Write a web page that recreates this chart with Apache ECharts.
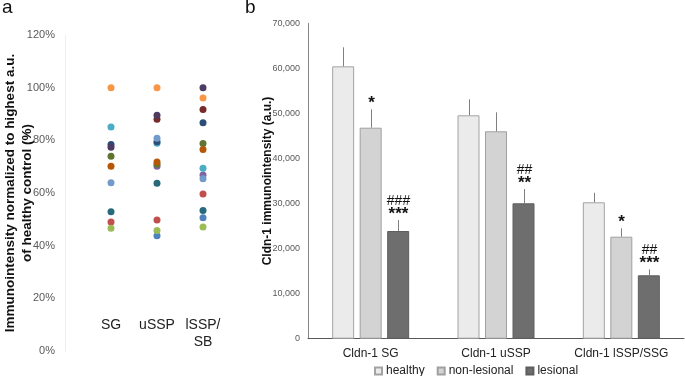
<!DOCTYPE html>
<html><head><meta charset="utf-8">
<script src="https://cdn.jsdelivr.net/npm/echarts@6/dist/echarts.min.js"></script>
<style>html,body{margin:0;padding:0;background:#fff}#c{width:685px;height:376px}</style>
</head><body><div id="c"></div>
<script>
// ---- Panel a data ----
const scatterCategories = ['SG', 'uSSP', 'lSSP/\nSB'];
const patientColors = ['#4F81BD','#C0504D','#9BBB59','#8064A2','#4BACC6','#F79646','#2C4D75','#772C2A','#5F7530','#4D3B62','#276A7C','#B65708','#729ACA'];
// values per patient: [SG, uSSP, lSSP/SB] in %
const patientValues = [
  [null, 43.8, 50.6],
  [49.0, 49.7, 59.6],
  [46.6, 45.8, 47.1],
  [null, 70.2, 66.8],
  [85.1, 78.9, 69.4],
  [100, 100, 96.1],
  [78.4, 79.5, 86.7],
  [null, 88.0, 91.7],
  [74.0, 70.9, 78.8],
  [77.4, 89.5, 100],
  [52.9, 63.7, 53.4],
  [70.2, 71.8, 76.5],
  [63.9, 80.8, 65.4]
];
// ---- Panel b data ----
const barCategories = ['Cldn-1 SG', 'Cldn-1 uSSP', 'Cldn-1 lSSP/SSG'];
const groupNames = ['healthy', 'non-lesional', 'lesional'];
const healthy = [60450, 49580, 30270];
const healthySD = [4220, 3550, 2130];
const nonLesional = [46830, 46030, 22640];
const nonLesionalSD = [4080, 4210, 1860];
const lesional = [23900, 30050, 14070];
const lesionalSD = [2440, 3170, 1330];
const healthyMarks = ['', '', ''];
const nonLesionalMarks = ['*', '', '*'];
const lesionalMarks = ['###|***', '##|**', '##|***'];

const FONT = 'Liberation Sans, Arial, sans-serif';
const barFills = ['#EBEBEB', '#D3D3D3', '#6E6E6E'];
const barBorders = ['#A3A3A3', '#A0A0A0', '#5E5E5E'];
const BAR_W = 22, BAR_STEP = 27.5;

const chart = echarts.init(document.getElementById('c'), null, {renderer: 'canvas'});

const scatterSeries = patientValues.map((vals, p) => ({
  type: 'scatter', xAxisIndex: 0, yAxisIndex: 0,
  symbolSize: 7,
  itemStyle: {color: patientColors[p], opacity: 1},
  data: vals.map((v, i) => v == null ? null : [i + 1, v]).filter(d => d)
}));

function errSeries(vals, sds, marks, idx) {
  return {
    type: 'custom', xAxisIndex: 1, yAxisIndex: 1, z: 5,
    data: vals.map((v, i) => [i, v, v + sds[i]]),
    renderItem(params, api) {
      const i = api.value(0);
      const base = api.coord([i, api.value(1)]);
      const top = api.coord([i, api.value(2)]);
      const x = Math.round(base[0] + (idx - 1) * BAR_STEP) + 0.5;
      const children = [{type: 'line', shape: {x1: x, y1: base[1], x2: x, y2: top[1]},
        style: {stroke: '#7F7F7F', lineWidth: 1}}];
      const m = marks[params.dataIndex];
      if (m) {
        const parts = m.split('|');
        let txt;
        if (parts.length === 2) txt = '{h|' + parts[0] + '}\n{s|' + parts[1] + '}';
        else txt = '{s|' + parts[0] + '}';
        children.push({type: 'text', x: x, y: top[1] + 1,
          style: {text: txt, align: 'center', verticalAlign: 'bottom', fill: '#111',
            rich: {
              h: {fontSize: 14, fontFamily: FONT, lineHeight: 12, fill: '#111'},
              s: {fontSize: 17, fontFamily: FONT, fontWeight: 'bold', lineHeight: 14, fill: '#111'}
            }}});
      }
      return {type: 'group', children};
    }
  };
}

const barData = [healthy, nonLesional, lesional];
const sdData = [healthySD, nonLesionalSD, lesionalSD];
const markData = [healthyMarks, nonLesionalMarks, lesionalMarks];

const barSeries = groupNames.map((n, k) => ({
  name: n, type: 'bar', xAxisIndex: 1, yAxisIndex: 1,
  barWidth: BAR_W, barGap: '25%',
  itemStyle: {color: barFills[k], borderColor: barBorders[k], borderWidth: 1},
  data: barData[k]
}));

const option = {
  animation: false,
  textStyle: {fontFamily: FONT},
  grid: [
    {left: 65, top: 35, bottom: 25, width: 184, containLabel: false, outerBoundsMode: 'none'},
    {left: 308, top: 23.3, right: 1, bottom: 37.3, containLabel: false, outerBoundsMode: 'none'}
  ],
  xAxis: [
    {type: 'value', gridIndex: 0, min: 0, max: 4, interval: 1,
      axisLine: {show: false}, axisTick: {show: false}, splitLine: {show: false},
      offset: -34,
      axisLabel: {margin: 0, fontSize: 14, color: '#222', lineHeight: 17, verticalAlign: 'top',
        fontFamily: FONT,
        formatter: v => (Number.isInteger(v) && v >= 1 && v <= 3) ? scatterCategories[v - 1] : ''}},
    {type: 'category', gridIndex: 1, data: barCategories,
      axisLine: {lineStyle: {color: '#595959', width: 1}}, axisTick: {show: false},
      axisLabel: {fontSize: 12, color: '#222', margin: 9, fontFamily: FONT}}
  ],
  yAxis: [
    {type: 'value', gridIndex: 0, min: 0, max: 120, interval: 20,
      axisLine: {show: true, lineStyle: {color: '#EEEEEE'}}, axisTick: {show: false}, splitLine: {show: false},
      axisLabel: {formatter: '{value}%', fontSize: 11, color: '#595959', margin: 10, fontFamily: FONT},
      name: 'Immunointensity normalized to highest a.u.\nof healthy control (%)',
      nameLocation: 'middle', nameGap: 29, nameRotate: 90, nameMoveOverlap: false,
      nameTextStyle: {fontSize: 13.5, fontWeight: 'bold', color: '#111', lineHeight: 17, align: 'center', fontFamily: FONT}},
    {type: 'value', gridIndex: 1, min: 0, max: 70000, interval: 10000,
      axisLine: {show: true, lineStyle: {color: '#868686'}}, axisTick: {show: false}, splitLine: {show: false},
      axisLabel: {fontSize: 9, color: '#595959', margin: 8, fontFamily: FONT},
      name: 'Cldn-1 immunointensity (a.u.)',
      nameLocation: 'middle', nameGap: 34, nameRotate: 90, nameMoveOverlap: false,
      nameTextStyle: {fontSize: 12, fontWeight: 'bold', color: '#111', fontFamily: FONT}}
  ],
  legend: {data: groupNames, left: 369, top: 360, itemWidth: 7, itemHeight: 7, itemGap: 12,
    icon: 'rect', textStyle: {fontSize: 12, color: '#222', fontFamily: FONT, padding: [0, 0, 0, -1]}},
  graphic: [
    {type: 'text', left: 2, top: -2, style: {text: 'a', fontSize: 19, fill: '#111', fontFamily: FONT}},
    {type: 'text', left: 245, top: -2, style: {text: 'b', fontSize: 19, fill: '#111', fontFamily: FONT}}
  ],
  series: [
    ...scatterSeries,
    ...barSeries,
    ...groupNames.map((n, k) => errSeries(barData[k], sdData[k], markData[k], k))
  ]
};
chart.setOption(option);
</script></body></html>
